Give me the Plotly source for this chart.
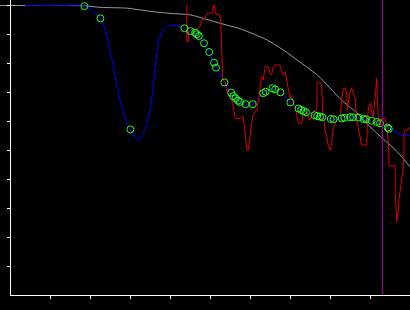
import plotly.graph_objects as go

# ---- data (arbitrary units: 1 x-tick = 1 unit, 1 y-tick = 1 unit) ----
x_ticks = list(range(1, 11))
y_ticks = list(range(1, 11))
x_start = 0

gray_x = [-0.25, 1.88, 2.25, 2.93, 3.25, 3.58, 4.0, 4.5, 4.83, 5.25, 5.68, 6.0,
          6.43, 6.83, 7.25, 7.68, 8.0, 8.33, 8.68, 9.0, 9.33, 9.68, 10.0]
gray_y = [9.98, 9.97, 9.92, 9.89, 9.83, 9.77, 9.71, 9.66, 9.54, 9.37, 9.21, 9.05,
          8.79, 8.45, 8.03, 7.59, 7.14, 6.67, 6.27, 5.80, 5.38, 4.94, 4.42]

pts_x = [1.86, 2.26, 3.01, 4.36, 4.51, 4.63, 4.67, 4.72, 4.85, 4.98, 5.10, 5.15,
         5.36, 5.53, 5.58, 5.64, 5.70, 5.75, 5.89, 6.07, 6.33, 6.39, 6.56, 6.63,
         6.76, 7.01, 7.21, 7.28, 7.34, 7.40, 7.61, 7.68, 7.75, 7.81, 8.02, 8.09,
         8.29, 8.36, 8.50, 8.58, 8.71, 8.84, 8.90, 9.04, 9.17, 9.25, 9.44, 9.47]
pts_y = [9.96, 9.54, 5.71, 9.20, 9.10, 9.04, 8.99, 8.93, 8.68, 8.38, 8.01, 7.84,
         7.33, 6.98, 6.86, 6.78, 6.70, 6.66, 6.58, 6.58, 6.96, 7.01, 7.13, 7.09,
         6.99, 6.64, 6.43, 6.38, 6.34, 6.30, 6.20, 6.17, 6.15, 6.13, 6.07, 6.06,
         6.09, 6.11, 6.13, 6.13, 6.12, 6.07, 6.06, 6.01, 5.97, 5.92, 5.77, 5.73]

blue_x = [0.375, 1.25, 1.86, 2.26, 2.50, 2.75, 2.92, 3.01, 3.23, 3.50, 3.63, 3.75,
          3.90, 4.13, 4.36, 4.51, 4.63, 4.67, 4.72, 4.85, 4.98, 5.10, 5.15,
          5.36, 5.53, 5.58, 5.64, 5.70, 5.75, 5.89, 6.07, 6.33, 6.39, 6.56, 6.63,
          6.76, 7.01, 7.21, 7.28, 7.34, 7.40, 7.61, 7.68, 7.75, 7.81, 8.02, 8.09,
          8.29, 8.36, 8.50, 8.58, 8.71, 8.84, 8.90, 9.04, 9.17, 9.25, 9.44, 9.47,
          9.58, 9.79, 10.0]
blue_y = [9.98, 9.98, 9.96, 9.54, 8.45, 6.72, 5.93, 5.71, 5.34, 6.38, 7.87, 8.91,
          9.25, 9.30, 9.20, 9.10, 9.04, 8.99, 8.93, 8.68, 8.38, 8.01, 7.84,
          7.33, 6.98, 6.86, 6.78, 6.70, 6.66, 6.58, 6.58, 6.96, 7.01, 7.13, 7.09,
          6.99, 6.64, 6.43, 6.38, 6.34, 6.30, 6.20, 6.17, 6.15, 6.13, 6.07, 6.06,
          6.09, 6.11, 6.13, 6.13, 6.12, 6.07, 6.06, 6.01, 5.97, 5.92, 5.77, 5.73,
          5.67, 5.52, 5.51]

red_x = [4.42, 4.42, 4.46, 4.46, 4.54, 4.63, 4.71, 4.75, 4.79, 4.88, 4.93, 5.07,
         5.08, 5.11, 5.13, 5.25, 5.27, 5.29, 5.32, 5.38, 5.42, 5.50, 5.54, 5.58,
         5.63, 5.75, 5.83, 5.88, 5.92, 5.96, 6.00, 6.04, 6.08, 6.17, 6.21, 6.25,
         6.29, 6.33, 6.38, 6.46, 6.50, 6.54, 6.58, 6.63, 6.75, 6.79, 6.83, 6.88,
         6.92, 6.96, 7.00, 7.04, 7.08, 7.13, 7.17, 7.21, 7.29, 7.33, 7.42, 7.46,
         7.50, 7.58, 7.67, 7.68, 7.75, 7.79, 7.82, 7.88, 7.92, 7.96, 8.00, 8.04,
         8.08, 8.17, 8.25, 8.29, 8.33, 8.38, 8.42, 8.43, 8.46, 8.50, 8.54, 8.63,
         8.67, 8.71, 8.75, 8.79, 8.92, 8.93, 8.96, 9.00, 9.04, 9.08, 9.13, 9.17,
         9.18, 9.21, 9.25, 9.29, 9.38, 9.42, 9.46, 9.48, 9.63, 9.63, 9.67, 9.69,
         9.73, 9.79, 9.83, 9.85, 9.85, 9.88, 9.96, 10.0]
red_y = [10.0, 8.73, 8.73, 9.08, 9.16, 9.16, 9.20, 9.25, 9.48, 9.54, 9.71, 9.73,
         10.0, 10.0, 9.71, 9.66, 9.31, 8.33, 7.41, 7.36, 7.01, 6.84, 6.72, 6.49,
         6.09, 6.09, 6.15, 5.58, 5.00, 5.00, 5.58, 5.92, 6.21, 6.38, 6.72, 7.18,
         7.53, 7.41, 7.87, 7.87, 7.64, 7.59, 7.87, 7.93, 7.93, 7.70, 7.59, 7.70,
         7.41, 7.01, 6.78, 6.90, 6.61, 6.49, 6.15, 5.92, 5.92, 6.21, 6.32, 6.15,
         6.03, 6.32, 6.38, 7.30, 7.36, 7.24, 6.27, 5.69, 5.46, 5.11, 5.00, 5.23,
         5.75, 6.03, 6.15, 6.72, 7.13, 7.13, 6.96, 6.38, 6.72, 7.01, 7.13, 6.78,
         6.03, 5.75, 5.34, 5.17, 5.17, 5.80, 6.49, 6.61, 6.27, 6.15, 6.84, 7.47,
         6.84, 6.03, 5.80, 6.09, 6.09, 5.80, 5.23, 4.45, 4.45, 3.52, 2.53, 2.70,
         3.34, 3.97, 4.38, 5.00, 5.58, 5.69, 5.69, 5.80]

marker_x = 9.31

# ---- figure ----
fig = go.Figure()
fig.add_trace(go.Scatter(x=gray_x, y=gray_y, mode="lines",
                         line=dict(color="#9a9a9a", width=1, shape="spline", smoothing=0.8),
                         hoverinfo="skip"))
fig.add_trace(go.Scatter(x=blue_x, y=blue_y, mode="lines",
                         line=dict(color="#0000ff", width=1, shape="spline", smoothing=0.8),
                         hoverinfo="skip"))
fig.add_trace(go.Scatter(x=red_x, y=red_y, mode="lines",
                         line=dict(color="#dd0000", width=1),
                         hoverinfo="skip"))
fig.add_trace(go.Scatter(x=pts_x, y=pts_y, mode="markers",
                         marker=dict(symbol="circle-open", size=7, color="#22ff22",
                                     line=dict(width=1, color="#22ff22")),
                         hoverinfo="skip"))

fig.add_vline(x=marker_x, line_color="#aa00aa", line_width=1)
# x-axis baseline starting at the y-axis
fig.add_shape(type="line", xref="x", yref="paper",
              x0=x_start, x1=x_ticks[-1], y0=-0.0017, y1=-0.0017,
              line=dict(color="white", width=1))

fig.update_layout(
    width=410, height=310,
    margin=dict(l=0, r=0, t=0, b=15, pad=0),
    paper_bgcolor="black", plot_bgcolor="black",
    showlegend=False,
    xaxis=dict(range=[-0.25, 10], showgrid=False, zeroline=False, showline=False,
               ticks="outside", ticklen=3, tickwidth=1, tickcolor="white",
               tickvals=x_ticks, showticklabels=False),
    yaxis=dict(range=[0, 295 / 29], anchor="free", position=10 / 410,
               showgrid=False, zeroline=False, showline=True,
               linecolor="white", linewidth=1,
               ticks="outside", ticklen=3, tickwidth=1, tickcolor="white",
               tickvals=y_ticks, showticklabels=False),
)

fig.write_html("out.html")
